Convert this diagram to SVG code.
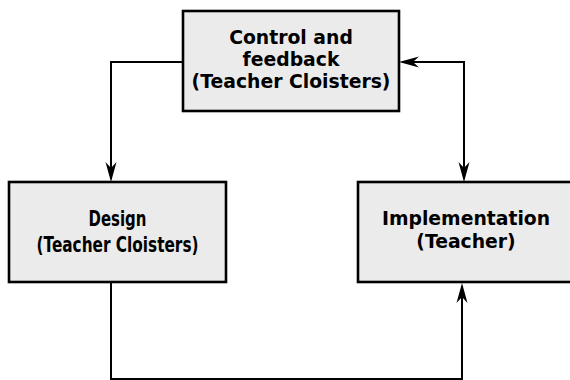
<svg xmlns="http://www.w3.org/2000/svg" width="570" height="380" viewBox="0 0 570 380">
  <style>
    .box { fill: #ebebeb; stroke: #000; stroke-width: 2.6; }
    .lbl { font-family: "DejaVu Sans", Verdana, sans-serif; font-weight: bold; font-size: 18.8px; fill: #000; text-anchor: middle; }
    .lblc { font-family: "DejaVu Sans", Verdana, sans-serif; font-weight: bold; font-size: 21px; fill: #000; text-anchor: middle; }
    .conn { fill: none; stroke: #000; stroke-width: 2; }
  </style>
  <defs>
    <marker id="arr" markerUnits="userSpaceOnUse" viewBox="-20 -7 24 14" refX="0" refY="0" markerWidth="24" markerHeight="14" orient="auto-start-reverse">
      <path d="M3,0 L-17,-5.5 L-11,0 L-17,5.5 Z" fill="#000"/>
    </marker>
  </defs>
  <rect width="570" height="380" fill="#fff"/>

  <g id="connectors">
    <path class="conn" d="M183,62 H111 V179" marker-end="url(#arr)"/>
    <path class="conn" d="M402,62 H464 V179" marker-start="url(#arr)" marker-end="url(#arr)"/>
    <path class="conn" d="M111,282 V379 H462 V286" marker-end="url(#arr)"/>
  </g>

  <g id="control">
    <rect class="box" x="183" y="11" width="216" height="100"/>
    <text class="lbl" x="291" y="43.5">Control and</text>
    <text class="lbl" x="291" y="65.5">feedback</text>
    <text class="lbl" x="291" y="87.5">(Teacher Cloisters)</text>
  </g>

  <g id="design">
    <rect class="box" x="9" y="182" width="217" height="100"/>
    <text class="lblc" x="117.5" y="225.5" textLength="58" lengthAdjust="spacingAndGlyphs">Design</text>
    <text class="lblc" x="117.5" y="251.5" textLength="162" lengthAdjust="spacingAndGlyphs">(Teacher Cloisters)</text>
  </g>

  <g id="implementation">
    <rect class="box" x="358" y="182" width="218" height="100"/>
    <text class="lbl" x="466" y="225">Implementation</text>
    <text class="lbl" x="466" y="247.5">(Teacher)</text>
  </g>
</svg>
